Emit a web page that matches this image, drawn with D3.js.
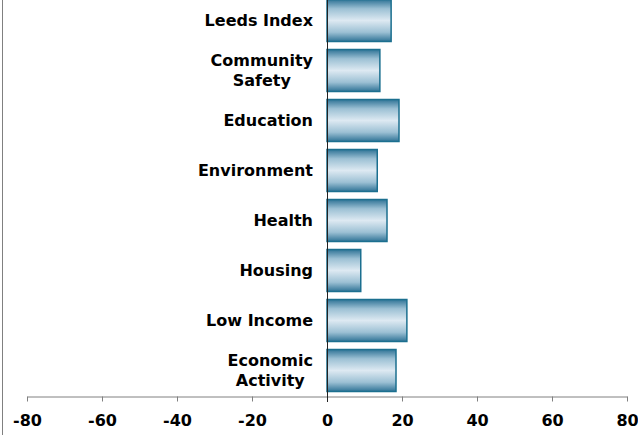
<!DOCTYPE html>
<html>
<head>
<meta charset="utf-8">
<script src="https://cdn.jsdelivr.net/npm/d3@7"></script>
<style>
  body { margin: 0; background: #fff; }
  text { font-family: "DejaVu Sans", Verdana, sans-serif; font-weight: bold; fill: #000; }
</style>
</head>
<body>
<div id="viz"></div>
<script>
var categories = [
  ["Leeds Index"],
  ["Community", "Safety"],
  ["Education"],
  ["Environment"],
  ["Health"],
  ["Housing"],
  ["Low Income"],
  ["Economic", "Activity"]
];
var values = [17.1, 14.1, 19.2, 13.4, 16.0, 9.0, 21.3, 18.4];
var xTicks = [-80, -60, -40, -20, 0, 20, 40, 60, 80];

var width = 638, height = 435;
var svg = d3.select("#viz").append("svg")
  .attr("width", width)
  .attr("height", height);

// gradient for the bars
var grad = svg.append("defs").append("linearGradient")
  .attr("id", "barGrad")
  .attr("x1", 0).attr("y1", 0).attr("x2", 0).attr("y2", 1);
grad.append("stop").attr("offset", "0%").attr("stop-color", "#2f7396");
grad.append("stop").attr("offset", "22%").attr("stop-color", "#9cc0d4");
grad.append("stop").attr("offset", "50%").attr("stop-color", "#dde9f2");
grad.append("stop").attr("offset", "78%").attr("stop-color", "#9cc0d4");
grad.append("stop").attr("offset", "100%").attr("stop-color", "#2f7396");

var data = categories.map(function(c, i){ return {key: c.join(" "), lines: c, value: values[i]}; });

var x_scale = d3.scaleLinear().domain([-80, 80]).range([27, 627]);
var y_scale = d3.scaleBand()
  .domain(data.map(function(d){ return d.key; }))
  .range([-4.5, 395.5])
  .paddingInner(0.16)
  .paddingOuter(0.08);

// left frame line
svg.append("line")
  .attr("x1", 2.5).attr("x2", 2.5).attr("y1", 0).attr("y2", height)
  .attr("stroke", "#808080").attr("stroke-width", 1);

// x axis
var x_axis = d3.axisBottom(x_scale)
  .tickValues(xTicks)
  .tickFormat(function(d){ return String(d); })
  .tickSize(5).tickPadding(13).tickSizeOuter(0);
var gx = svg.append("g")
  .attr("transform", "translate(0,396.5)")
  .call(x_axis);
gx.select(".domain").attr("stroke", "#808080");
gx.selectAll(".tick line").attr("stroke", "#808080");
gx.selectAll(".tick text")
  .style("font-size", "16px")
  .style("font-family", "'DejaVu Sans', Verdana, sans-serif")
  .style("font-weight", "bold")
  .attr("fill", "#000");

// bars
svg.selectAll(".bar")
  .data(data)
  .enter()
  .append("rect")
  .attr("class", "bar")
  .attr("x", function(d){ return x_scale(Math.min(0, d.value)); })
  .attr("y", function(d){ return y_scale(d.key); })
  .attr("width", function(d){ return Math.abs(x_scale(d.value) - x_scale(0)); })
  .attr("height", y_scale.bandwidth())
  .attr("fill", "url(#barGrad)")
  .attr("stroke", "#1b6f8f")
  .attr("stroke-width", 1.5);

// zero line
svg.append("line")
  .attr("x1", x_scale(0) + 0.5).attr("x2", x_scale(0) + 0.5)
  .attr("y1", 0).attr("y2", 402)
  .attr("stroke", "#222").attr("stroke-width", 1);

// category labels, lines centred on each other, block right-aligned at 313
var labels = svg.selectAll(".cat")
  .data(data)
  .enter()
  .append("text")
  .attr("class", "cat")
  .style("font-size", "16px")
  .attr("transform", function(d){
    return "translate(0," + (y_scale(d.key) + y_scale.bandwidth() / 2) + ")";
  });

labels.each(function(d){
  var t = d3.select(this);
  var n = d.lines.length;
  var spans = d.lines.map(function(line, j){
    return t.append("tspan")
      .attr("text-anchor", "middle")
      .attr("y", (j - (n - 1) / 2) * 20)
      .attr("dy", "0.35em")
      .text(line);
  });
  var maxW = d3.max(spans, function(s){ return s.node().getComputedTextLength(); });
  spans.forEach(function(s){ s.attr("x", 313 - maxW / 2); });
});
</script>
</body>
</html>
